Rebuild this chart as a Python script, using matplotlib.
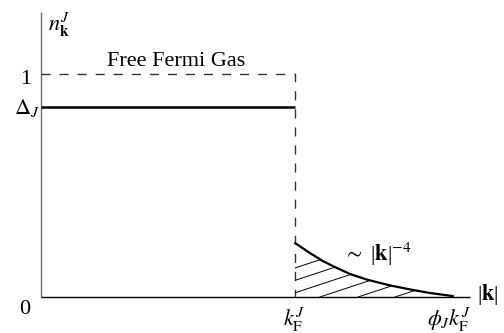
import numpy as np
import matplotlib

matplotlib.use('agg')
import matplotlib.pyplot as plt
from matplotlib.patches import Polygon

plt.rcParams['font.family'] = ['Liberation Serif', 'DejaVu Serif']
plt.rcParams['mathtext.fontset'] = 'stix'

# levels (k in units of k_F, n in units of the free gas step)
k_fermi = 1.0
phi_j = 1.62
free_level = 1.0
delta_j = 0.852
k_axis_end = 1.69
n_axis_end = 1.278

# high-momentum tail ~ |k|^-4
tail_k = [1.0, 1.059, 1.110, 1.165, 1.217, 1.283, 1.374, 1.453, 1.531, 1.622]
tail_n = [0.242, 0.197, 0.161, 0.130, 0.103, 0.078, 0.052, 0.034, 0.018, 0.004]

# where hatch lines cross the k axis
hatch_x0 = [0.654, 0.802, 0.950, 1.098, 1.248, 1.394]
hatch_slope = 0.376

fig = plt.figure(figsize=(5.04, 3.33), dpi=100)
ax = fig.add_axes([0, 0, 1, 1])
ax.set_xlim(-41 / 254, 463 / 254)
ax.set_ylim(-36 / 223, 297 / 223)
ax.axis('off')

# axes
ax.plot([0, 0], [0, n_axis_end], color='#707070', lw=1.0, solid_capstyle='butt')
ax.plot([0, k_axis_end], [0, 0], color='black', lw=1.0, solid_capstyle='butt')

# free Fermi gas step
ax.plot([0, k_fermi, k_fermi], [free_level, free_level, 0], color='#333333',
        lw=1.0, dashes=(6.5, 6.5))

# interacting occupation below k_F
ax.plot([0, k_fermi], [delta_j, delta_j], color='black', lw=1.8,
        solid_capstyle='butt')

# tail
ax.plot(tail_k, tail_n, color='black', lw=1.6, solid_capstyle='round')

# hatching under the tail
region = Polygon(list(zip(tail_k, tail_n)) + [(tail_k[-1], 0), (tail_k[0], 0)],
                 closed=True, facecolor='none', edgecolor='none')
ax.add_patch(region)
for x0 in hatch_x0:
    xs = np.array([x0, x0 + 0.8])
    ln, = ax.plot(xs, hatch_slope * (xs - x0), color='black', lw=0.7)
    ln.set_clip_path(region)

fs = 16
ax.text(0.028, 1.22, r'$n^{J}_{\mathbf{k}}$', fontsize=fs, ha='left', va='center')
ax.text(0.531, 1.056, 'Free Fermi Gas', fontsize=fs, ha='center', va='center')
ax.text(-0.059, 0.975, '1', fontsize=fs, ha='center', va='center')
ax.text(-0.055, 0.848, r'$\Delta_J$', fontsize=fs, ha='center', va='center')
ax.text(-0.063, -0.054, '0', fontsize=fs, ha='center', va='center')
ax.text(0.996, -0.103, r'$k^J_{\mathrm{F}}$', fontsize=fs, ha='center', va='center')
ax.text(1.606, -0.103, r'$\phi_J k^J_{\mathrm{F}}$', fontsize=fs, ha='center', va='center')
ax.text(1.80, 0.012, r'|$\mathbf{k}$|', fontsize=fs, ha='right', va='center')
ax.text(1.189, 0.190, r'$\sim$ |$\mathbf{k}$|$^{-4}$', fontsize=fs, ha='left',
        va='center')

fig.savefig('out.png', dpi=100)
